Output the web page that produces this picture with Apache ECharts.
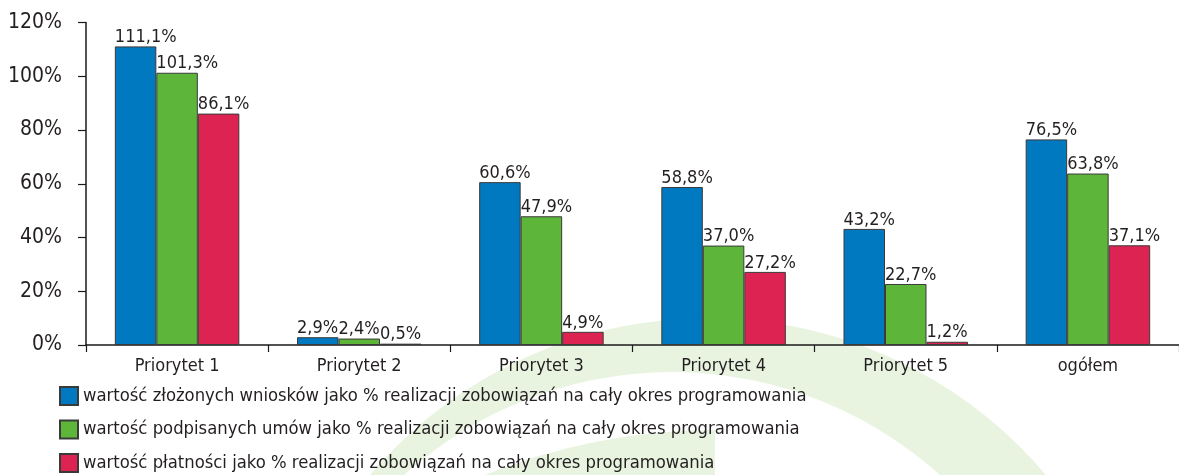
<!DOCTYPE html>
<html>
<head>
<meta charset="utf-8">
<script src="https://cdn.jsdelivr.net/npm/echarts@6/dist/echarts.min.js"></script>
<style>
html,body{margin:0;padding:0;background:#fff;}
#chart{width:1179px;height:475px;}
</style>
</head>
<body>
<div id="chart"></div>
<script>
const categories = ['Priorytet 1', 'Priorytet 2', 'Priorytet 3', 'Priorytet 4', 'Priorytet 5', 'ogółem'];
const seriesNames = [
  'wartość złożonych wniosków jako % realizacji zobowiązań na cały okres programowania',
  'wartość podpisanych umów jako % realizacji zobowiązań na cały okres programowania',
  'wartość płatności jako % realizacji zobowiązań na cały okres programowania'
];
const wnioski = [111.1, 2.9, 60.6, 58.8, 43.2, 76.5];
const umowy = [101.3, 2.4, 47.9, 37.0, 22.7, 63.8];
const platnosci = [86.1, 0.5, 4.9, 27.2, 1.2, 37.1];
const yTicks = [0, 20, 40, 60, 80, 100, 120];

const colors = ['#0079C1', '#5DB53A', '#DC2351'];
const FONT = '"DejaVu Sans Condensed", "Liberation Sans", sans-serif';
const TXT = '#231F20';
const WM = '#E8F4E0';

const chart = echarts.init(document.getElementById('chart'), null, {renderer: 'canvas'});

function mk(name, data, color) {
  return {
    name: name,
    type: 'bar',
    data: data,
    barWidth: 41.5,
    barGap: '0%',
    itemStyle: {color: color, borderColor: '#3a3a3a', borderWidth: 1},
    label: {
      show: true,
      position: [0, 1],
      align: 'left',
      verticalAlign: 'bottom',
      fontFamily: FONT,
      fontSize: 18,
      lineHeight: 20,
      color: TXT,
      formatter: p => p.value.toFixed(1).replace('.', ',') + '%'
    },
    emphasis: {disabled: true}
  };
}

chart.setOption({
  animation: false,
  backgroundColor: '#fff',
  textStyle: {fontFamily: FONT, color: TXT},
  graphic: [
    {type: 'circle', z: -10, silent: true, shape: {cx: 708, cy: 760, r: 442}, style: {fill: WM}},
    {type: 'circle', z: -9, silent: true, shape: {cx: 672, cy: 772, r: 400}, style: {fill: '#fff'}},
    {type: 'sector', z: -8, silent: true, shape: {cx: 715, cy: 1040, r: 610, r0: 0, startAngle: Math.PI, endAngle: Math.PI * 1.5}, style: {fill: WM}}
  ],
  grid: {left: 86, right: -8.5, top: 22.5, bottom: 130, containLabel: false},
  legend: {
    orient: 'vertical',
    left: 59,
    top: 386,
    height: 100,
    padding: 0,
    itemWidth: 18,
    itemHeight: 18,
    itemGap: 13.5,
    icon: 'rect',
    data: seriesNames,
    textStyle: {fontFamily: FONT, fontSize: 18.3, lineHeight: 18, color: TXT},
    selectedMode: false
  },
  xAxis: {
    type: 'category',
    data: categories,
    axisLine: {show: true, lineStyle: {color: '#1a1a1a', width: 1.5}},
    axisTick: {show: true, length: 7, lineStyle: {color: '#1a1a1a', width: 1.2}},
    axisLabel: {fontFamily: FONT, fontSize: 18, color: TXT, margin: 12},
    splitLine: {show: false}
  },
  yAxis: {
    type: 'value',
    min: yTicks[0],
    max: yTicks[yTicks.length - 1],
    interval: yTicks[1] - yTicks[0],
    axisLine: {show: true, lineStyle: {color: '#1a1a1a', width: 1.5}},
    axisTick: {show: true, length: 8, inside: false, lineStyle: {color: '#1a1a1a', width: 1.2}},
    axisLabel: {fontFamily: FONT, fontSize: 21, color: TXT, margin: 24, formatter: '{value}%'},
    splitLine: {show: false}
  },
  series: [
    mk(seriesNames[0], wnioski, colors[0]),
    mk(seriesNames[1], umowy, colors[1]),
    mk(seriesNames[2], platnosci, colors[2])
  ]
});
</script>
</body>
</html>
